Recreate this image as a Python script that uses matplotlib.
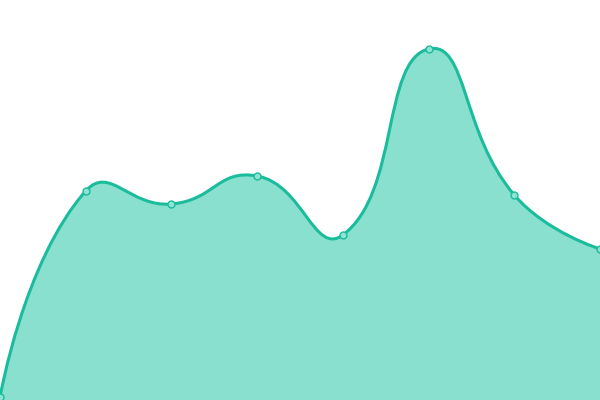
import numpy as np
import matplotlib
matplotlib.use('Agg')
import matplotlib.pyplot as plt
from matplotlib.path import Path
from matplotlib.patches import PathPatch

# datos
categorias = list(range(8))
valores = [3, 209, 196, 224, 165, 351, 205, 151]

color_linea = '#1abc9c'
color_area = '#89e0cf'
suavizado = 0.5


def curva_suave(pts, smooth):
    # control points estilo echarts (smooth line)
    verts = [tuple(pts[0])]
    codes = [Path.MOVETO]
    n = len(pts)
    cp0 = pts[0].copy()
    for i in range(1, n):
        x, y = pts[i]
        prev = pts[i - 1]
        nxt = pts[i + 1] if i + 1 < n else pts[i]
        if i + 1 < n:
            v = nxt - prev
            l0 = np.hypot(*(pts[i] - prev))
            l1 = np.hypot(*(nxt - pts[i]))
            r = l1 / (l0 + l1)
            cp1 = pts[i] - v * smooth * (1 - r)
            sig_cp0 = pts[i] + v * smooth * r
        else:
            cp1 = pts[i].copy()
            sig_cp0 = pts[i].copy()
        verts += [tuple(cp0), tuple(cp1), (x, y)]
        codes += [Path.CURVE4] * 3
        cp0 = sig_cp0
    return verts, codes


fig = plt.figure(figsize=(6, 4), dpi=100)
ax = fig.add_axes([0, 0, 1, 1])
ax.set_xlim(0, 7)
ax.set_ylim(0, 400)
ax.axis('off')

pts_disp = ax.transData.transform(np.column_stack([categorias, valores]).astype(float))
verts, codes = curva_suave(pts_disp, suavizado)
inv = ax.transData.inverted()
verts_data = inv.transform(np.array(verts))

# area
base0 = (categorias[-1], 0)
base1 = (categorias[0], 0)
area_verts = list(map(tuple, verts_data)) + [base0, base1, tuple(verts_data[0])]
area_codes = codes + [Path.LINETO, Path.LINETO, Path.CLOSEPOLY]
ax.add_patch(PathPatch(Path(area_verts, area_codes), facecolor=color_area,
                       edgecolor='none', clip_on=False))
ax.add_patch(PathPatch(Path(verts_data, codes), facecolor='none',
                       edgecolor=color_linea, linewidth=2.2, clip_on=False,
                       capstyle='round', joinstyle='round'))
ax.plot(categorias, valores, 'o', markersize=5, markerfacecolor='#8fe3d2',
        markeredgecolor=color_linea, markeredgewidth=1, clip_on=False)

fig.savefig('out.png', dpi=100)
